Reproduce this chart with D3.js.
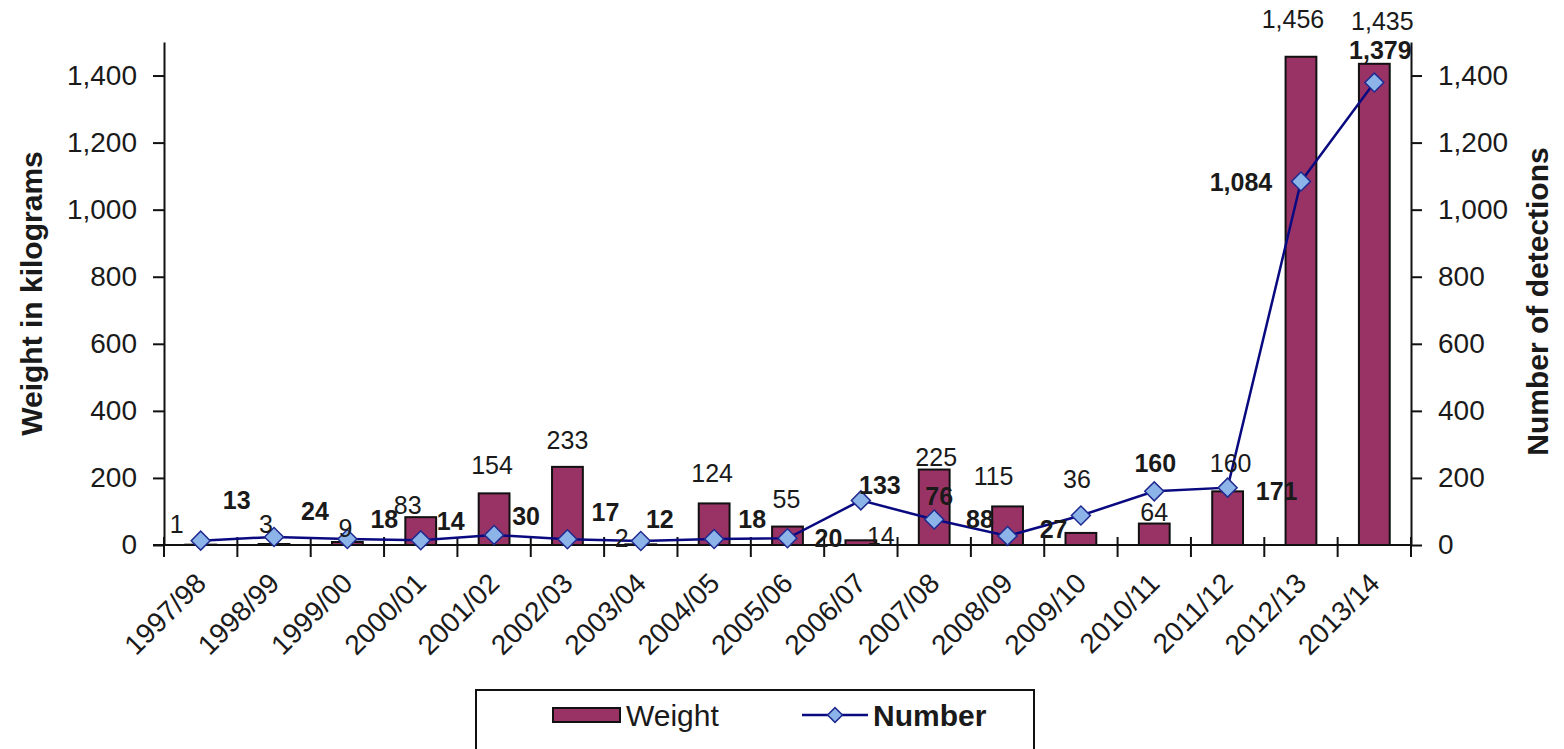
<!DOCTYPE html>
<html>
<head>
<meta charset="utf-8">
<script src="https://cdn.jsdelivr.net/npm/d3@7"></script>
<style>
  body { margin: 0; background: #fff; }
  text { font-family: "Liberation Sans", Arial, sans-serif; fill: #1a1a1a; }
</style>
</head>
<body>
<svg width="1564" height="749"></svg>
<script>
var categories = ["1997/98", "1998/99", "1999/00", "2000/01", "2001/02", "2002/03", "2003/04", "2004/05",
    "2005/06", "2006/07", "2007/08", "2008/09", "2009/10", "2010/11", "2011/12", "2012/13", "2013/14"]

// Weight in kilograms (bars, left axis)
var weight = [1, 3, 9, 83, 154, 233, 2, 124, 55, 14, 225, 115, 36, 64, 160, 1456, 1435]

// Number of detections (line, right axis)
var detections = [13, 24, 18, 14, 30, 17, 12, 18, 20, 133, 76, 27, 88, 160, 171, 1084, 1379]

var yTicks = [0, 200, 400, 600, 800, 1000, 1200, 1400]
var yMax = 1500

// hand placed data labels in the original, offsets from the mark in px
var weightLabelOffset = [[-24, -21], [-8, -20], [-2, -14], [-13, -12], [-2, -28], [0, -27], [-19, -6], [-2, -30],
    [-1, -28], [20, -4], [2, -13], [-14, -30], [-4, -54], [0, -12], [3, -28], [-8, -38], [8, -43]]
var numberLabelOffset = [[36, -41], [41, -26], [37, -20], [30, -19], [32, -19], [38, -27], [19, -22], [38, -20],
    [41, 0], [19, -15], [5, -24], [46, -7], [-101, 4], [1, -28], [49, 3], [-60, 1], [6, -33]]

var svg = d3.select("svg")
var margin = {top: 42, right: 153, bottom: 204, left: 164},
    width = 1564 - margin.left - margin.right,
    height = 749 - margin.top - margin.bottom

var x = d3.scaleBand().domain(categories).range([margin.left, margin.left + width]).padding(0)
var yL = d3.scaleLinear().domain([0, yMax]).range([margin.top + height, margin.top])
var yR = d3.scaleLinear().domain([0, yMax]).range([margin.top + height, margin.top])
var fmt = d3.format(",")
var bw = x.bandwidth()
var baseY = yL(0)

svg.append("rect").attr("width", 1564).attr("height", 749).attr("fill", "#fff")

// bars
svg.selectAll(".bar")
    .data(weight)
    .enter().append("rect")
    .attr("class", "bar")
    .attr("x", function(d, i){ return x(categories[i]) + bw * 0.29 })
    .attr("width", bw * 0.42)
    .attr("y", function(d){ return yL(d) })
    .attr("height", function(d){ return baseY - yL(d) })
    .attr("fill", "#993366")
    .attr("stroke", "#111")
    .attr("stroke-width", 2)

// axes
var leftAxis = svg.append("g")
    .attr("transform", "translate(" + margin.left + ",0)")
    .call(d3.axisLeft(yL).tickValues(yTicks).tickFormat(fmt).tickSize(11).tickSizeOuter(0).tickPadding(16))
var rightAxis = svg.append("g")
    .attr("transform", "translate(" + (margin.left + width) + ",0)")
    .call(d3.axisRight(yR).tickValues(yTicks).tickFormat(fmt).tickSize(11).tickSizeOuter(0).tickPadding(16))
;[leftAxis, rightAxis].forEach(function(a){
    a.select(".domain").attr("stroke", "#111").attr("stroke-width", 2)
    a.selectAll(".tick line").attr("stroke", "#111").attr("stroke-width", 2)
    a.selectAll(".tick text").attr("font-size", 28).attr("fill", "#1a1a1a")
})

// category axis: line, boundary ticks, slanted labels
svg.append("line")
    .attr("x1", margin.left - 11).attr("x2", margin.left + width)
    .attr("y1", baseY).attr("y2", baseY)
    .attr("stroke", "#111").attr("stroke-width", 2)
var bounds = categories.map(function(c){ return x(c) }).concat([x.range()[1]])
svg.selectAll(".xtick")
    .data(bounds)
    .enter().append("line")
    .attr("x1", function(d){ return d }).attr("x2", function(d){ return d })
    .attr("y1", baseY - 8).attr("y2", baseY + 12)
    .attr("stroke", "#111").attr("stroke-width", 2)
svg.selectAll(".xlabel")
    .data(categories)
    .enter().append("text")
    .attr("transform", function(d){ return "translate(" + (x(d) + bw / 2 + 7) + "," + (baseY + 40) + ") rotate(-45)" })
    .attr("text-anchor", "end")
    .attr("font-size", 28)
    .text(function(d){ return d })

// detections line
var valueLine = d3.line()
    .x(function(d, i){ return x(categories[i]) + bw / 2 })
    .y(function(d){ return yR(d) })
svg.append("path")
    .datum(detections)
    .attr("fill", "none")
    .attr("stroke", "#0a0a80")
    .attr("stroke-width", 2.5)
    .attr("d", valueLine)

var diamond = d3.symbol().type(d3.symbolSquare).size(180)
svg.selectAll(".marker")
    .data(detections)
    .enter().append("path")
    .attr("transform", function(d, i){ return "translate(" + (x(categories[i]) + bw / 2) + "," + yR(d) + ") rotate(45)" })
    .attr("d", diamond)
    .attr("fill", "#8db4e8")
    .attr("stroke", "#1f2a90")
    .attr("stroke-width", 1.5)

// data labels
svg.selectAll(".wlabel")
    .data(weight)
    .enter().append("text")
    .attr("x", function(d, i){ return x(categories[i]) + bw / 2 + weightLabelOffset[i][0] })
    .attr("y", function(d, i){ return yL(d) + weightLabelOffset[i][1] })
    .attr("dy", "0.36em")
    .attr("text-anchor", "middle")
    .attr("font-size", 25)
    .text(function(d){ return fmt(d) })
svg.selectAll(".nlabel")
    .data(detections)
    .enter().append("text")
    .attr("x", function(d, i){ return x(categories[i]) + bw / 2 + numberLabelOffset[i][0] })
    .attr("y", function(d, i){ return yR(d) + numberLabelOffset[i][1] })
    .attr("dy", "0.36em")
    .attr("text-anchor", "middle")
    .attr("font-size", 25)
    .attr("font-weight", "bold")
    .text(function(d){ return fmt(d) })

// axis titles
svg.append("text")
    .attr("transform", "translate(31," + (margin.top + height / 2) + ") rotate(-90)")
    .attr("text-anchor", "middle").attr("dy", "0.36em")
    .attr("font-size", 30).attr("font-weight", "bold")
    .text("Weight in kilograms")
svg.append("text")
    .attr("transform", "translate(1537," + (margin.top + height / 2 + 8) + ") rotate(-90)")
    .attr("text-anchor", "middle").attr("dy", "0.36em")
    .attr("font-size", 30).attr("font-weight", "bold")
    .text("Number of detections")

// legend
var legend = svg.append("g").attr("transform", "translate(476,690)")
legend.append("rect")
    .attr("width", 558).attr("height", 80)
    .attr("fill", "#fff").attr("stroke", "#111").attr("stroke-width", 2)
legend.append("rect")
    .attr("x", 77).attr("y", 18).attr("width", 67).attr("height", 14)
    .attr("fill", "#993366").attr("stroke", "#111").attr("stroke-width", 2)
legend.append("text")
    .attr("x", 150).attr("y", 25).attr("dy", "0.36em")
    .attr("font-size", 30)
    .text("Weight")
legend.append("line")
    .attr("x1", 326).attr("x2", 392).attr("y1", 25).attr("y2", 25)
    .attr("stroke", "#0a0a80").attr("stroke-width", 2.5)
legend.append("path")
    .attr("transform", "translate(359,25) rotate(45)")
    .attr("d", d3.symbol().type(d3.symbolSquare).size(110))
    .attr("fill", "#8db4e8").attr("stroke", "#1f2a90").attr("stroke-width", 1.5)
legend.append("text")
    .attr("x", 397).attr("y", 25).attr("dy", "0.36em")
    .attr("font-size", 30).attr("font-weight", "bold")
    .text("Number")
</script>
</body>
</html>
